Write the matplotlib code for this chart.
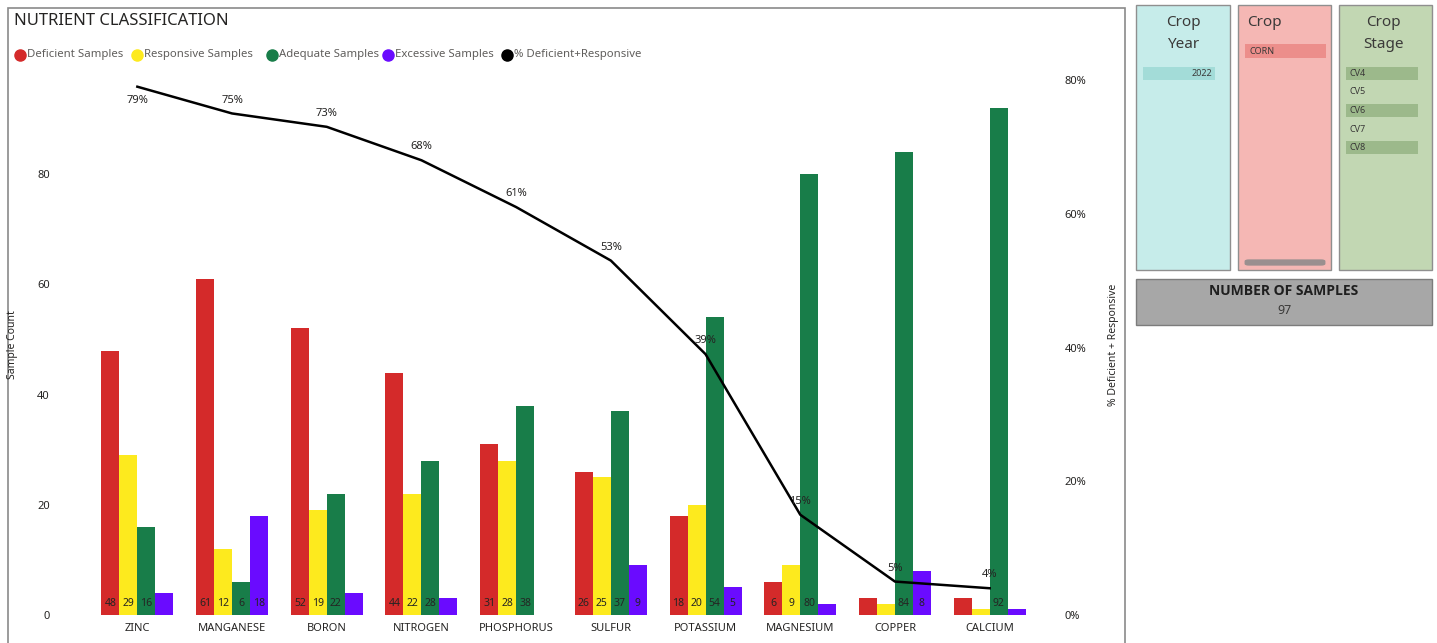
import numpy as np
import matplotlib
matplotlib.use("Agg")
import matplotlib.pyplot as plt
from matplotlib.patches import Rectangle, FancyBboxPatch
from matplotlib.lines import Line2D

plt.rcParams['font.family'] = ['Noto Sans', 'DejaVu Sans']

# data
nutrients = ["ZINC", "MANGANESE", "BORON", "NITROGEN", "PHOSPHORUS",
             "SULFUR", "POTASSIUM", "MAGNESIUM", "COPPER", "CALCIUM"]
deficient = [48, 61, 52, 44, 31, 26, 18, 6, 3, 3]
responsive = [29, 12, 19, 22, 28, 25, 20, 9, 2, 1]
adequate = [16, 6, 22, 28, 38, 37, 54, 80, 84, 92]
excessive = [4, 18, 4, 3, 0, 9, 5, 2, 8, 1]
pct_def_resp = [79, 75, 73, 68, 61, 53, 39, 15, 5, 4]

crop_years = ["2022"]
crops = ["CORN"]
crop_stages = ["CV4", "CV5", "CV6", "CV7", "CV8"]
stage_selected = [True, False, True, False, True]
n_samples = 97

series = [("Deficient Samples", deficient, "#D42A2A"),
          ("Responsive Samples", responsive, "#FDEA1E"),
          ("Adequate Samples", adequate, "#187D49"),
          ("Excessive Samples", excessive, "#6A0BFF")]

W, H = 1437, 643
fig = plt.figure(figsize=(W / 100, H / 100), dpi=100)


def fx(px):
    return px / W


def fy(py):
    return 1 - py / H


def frect(x0, y0, x1, y1, **kw):
    r = Rectangle((fx(x0), fy(y1)), fx(x1 - x0), (y1 - y0) / H,
                  transform=fig.transFigure, **kw)
    fig.patches.append(r)
    return r


# main visual frame (behind the axes)
frect(8, 8, 1125, 650, facecolor="none", edgecolor="#8a8a8a", lw=1.2, zorder=-1)
fig.text(fx(14), fy(21), "NUTRIENT CLASSIFICATION", fontsize=12, color="#252423",
         va="center", ha="left")

# legend row
legend_x = [20, 137, 272, 388, 507]
for lx, (name, _, col) in zip(legend_x, series + [("% Deficient+Responsive", None, "#000000")]):
    fig.add_artist(Line2D([fx(lx)], [fy(55)], marker="o", markersize=8,
                          color=col, transform=fig.transFigure))
    fig.text(fx(lx + 7), fy(55), name, fontsize=8.2, color="#605e5c",
             va="center", ha="left")

ax = fig.add_axes([fx(90), fy(615), fx(1037 - 90), (615 - 75) / H])
ax.patch.set_alpha(0)
x = np.arange(len(nutrients))
bw = 0.19
for i, (name, vals, col) in enumerate(series):
    xs = x + (i - 1.5) * bw
    ax.bar(xs, vals, width=bw, color=col, zorder=2)
    for xi, v in zip(xs, vals):
        if v >= 5:
            ax.text(xi, 2, str(v), ha="center", va="center", fontsize=7.5,
                    color="#252423", zorder=3)

ax.set_xlim(-0.5, len(nutrients) - 0.5)
ax.set_ylim(0, 98)
ax.set_yticks([0, 20, 40, 60, 80])
ax.set_xticks(x)
ax.set_xticklabels(nutrients)
ax.tick_params(axis="x", length=0, labelsize=8, colors="#252423", pad=6)
ax.tick_params(axis="y", length=0, labelsize=8, colors="#252423", pad=29)
for s in ax.spines.values():
    s.set_visible(False)
ax.set_ylabel("Sample Count", fontsize=7.5, color="#252423")
ax.yaxis.set_label_coords(-0.076, 0.5)

ax2 = ax.twinx()
ax2.plot(x, pct_def_resp, color="black", lw=1.8, zorder=4)
ax2.set_ylim(0, 80.75)
ax2.set_yticks([0, 20, 40, 60, 80])
ax2.set_yticklabels([f"{v}%" for v in [0, 20, 40, 60, 80]])
ax2.tick_params(axis="y", length=0, labelsize=8, colors="#252423", pad=20)
for s in ax2.spines.values():
    s.set_visible(False)
ax2.set_ylabel("% Deficient + Responsive", fontsize=7.5, color="#252423")
ax2.yaxis.set_label_coords(1.075, 0.5)
for i, v in enumerate(pct_def_resp):
    off = -2.0 if i == 0 else 2.0
    ax2.text(x[i], v + off, f"{v}%", ha="center", va="center", fontsize=8,
             color="#252423", zorder=5)

# slicer panels
panels = [(1136, 1230, "#C6ECEA"), (1238, 1331, "#F5B7B4"), (1339, 1432, "#C2D7B3")]
for x0, x1, bg in panels:
    frect(x0, 5, x1, 270, facecolor=bg, edgecolor="#8f8f8f", lw=1)

# Crop Year
fig.text(fx(1183), fy(23), "Crop", fontsize=11, color="#3b3a39", ha="center", va="center")
fig.text(fx(1183), fy(44), "Year", fontsize=11, color="#3b3a39", ha="center", va="center")
for j, yr in enumerate(crop_years):
    frect(1143, 67 + j * 19, 1215, 80 + j * 19, facecolor="#A3DCD8", edgecolor="none")
    fig.text(fx(1212), fy(73.5 + j * 19), yr, fontsize=6.5, color="#3b3a39",
             ha="right", va="center")

# Crop
fig.text(fx(1247), fy(23), "Crop", fontsize=11, color="#3b3a39", ha="left", va="center")
for j, c in enumerate(crops):
    frect(1245, 44 + j * 19, 1326, 58 + j * 19, facecolor="#EC8E8B", edgecolor="none")
    fig.text(fx(1250), fy(51 + j * 19), c, fontsize=6.5, color="#3b3a39",
             ha="left", va="center")
fig.patches.append(FancyBboxPatch((fx(1246), fy(265)), fx(78), 5 / H,
                                  boxstyle="round,pad=0.001,rounding_size=0.003",
                                  transform=fig.transFigure,
                                  facecolor="#9a8f8f", edgecolor="none"))

# Crop Stage
fig.text(fx(1383), fy(23), "Crop", fontsize=11, color="#3b3a39", ha="center", va="center")
fig.text(fx(1383), fy(44), "Stage", fontsize=11, color="#3b3a39", ha="center", va="center")
for j, (st, sel) in enumerate(zip(crop_stages, stage_selected)):
    yc = 73.5 + j * 18.5
    if sel:
        frect(1346, yc - 6.5, 1418, yc + 6.5, facecolor="#9CB98B", edgecolor="none")
    fig.text(fx(1350), fy(yc), st, fontsize=6.5, color="#3b3a39",
             ha="left", va="center")

# number of samples card
frect(1136, 279, 1432, 325, facecolor="#A7A7A7", edgecolor="#7c7c7c", lw=1)
fig.text(fx(1284), fy(291), "NUMBER OF SAMPLES", fontsize=10, fontweight="bold",
         family=["Open Sans", "DejaVu Sans"],
         color="#1f1f1f", ha="center", va="center")
fig.text(fx(1284), fy(311), str(n_samples), fontsize=9, color="#3b3a39",
         ha="center", va="center")

fig.savefig("out.png", dpi=100)
